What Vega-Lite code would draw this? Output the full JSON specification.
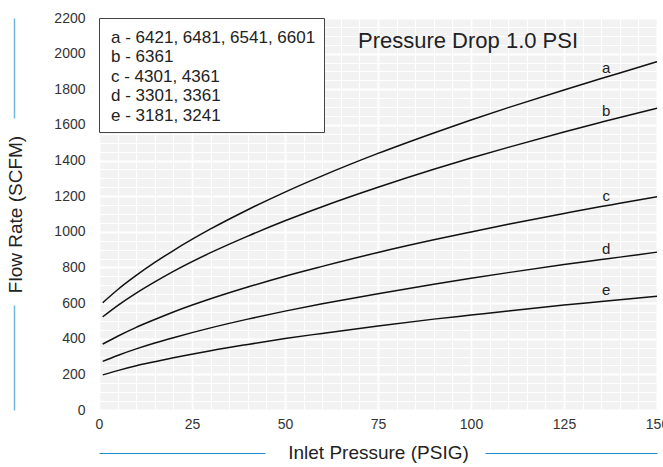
{
 "$schema": "https://vega.github.io/schema/vega-lite/v6.json",
 "width": 558, "height": 392,
 "autosize": {"type": "none"},
 "padding": {"left": 99, "top": 18, "right": 6, "bottom": 57},
 "background": "white",
 "config": {"font": "Liberation Sans", "view": {"fill": "#f2f2f2", "stroke": null}},
 "title": {"text": "Pressure Drop 1.0 PSI", "fontSize": 22, "fontWeight": "normal", "color": "#222", "anchor": "middle", "dx": 90, "offset": -59, "baseline": "alphabetic"},
 "data": {"values": [
  {"curve":"a","x":1,"flow":602},{"curve":"a","x":5,"flow":675},{"curve":"a","x":10,"flow":755},{"curve":"a","x":15,"flow":828},{"curve":"a","x":20,"flow":895},{"curve":"a","x":30,"flow":1016},{"curve":"a","x":40,"flow":1124},{"curve":"a","x":50,"flow":1223},{"curve":"a","x":60,"flow":1314},{"curve":"a","x":75,"flow":1440},{"curve":"a","x":90,"flow":1555},{"curve":"a","x":100,"flow":1628},{"curve":"a","x":110,"flow":1697},{"curve":"a","x":125,"flow":1796},{"curve":"a","x":135,"flow":1860},{"curve":"a","x":140,"flow":1891},{"curve":"a","x":150,"flow":1955},
  {"curve":"b","x":1,"flow":523},{"curve":"b","x":5,"flow":586},{"curve":"b","x":10,"flow":656},{"curve":"b","x":15,"flow":719},{"curve":"b","x":20,"flow":778},{"curve":"b","x":30,"flow":883},{"curve":"b","x":40,"flow":976},{"curve":"b","x":50,"flow":1062},{"curve":"b","x":60,"flow":1141},{"curve":"b","x":75,"flow":1250},{"curve":"b","x":90,"flow":1351},{"curve":"b","x":100,"flow":1414},{"curve":"b","x":110,"flow":1474},{"curve":"b","x":125,"flow":1560},{"curve":"b","x":135,"flow":1615},{"curve":"b","x":140,"flow":1642},{"curve":"b","x":150,"flow":1694},
  {"curve":"c","x":1,"flow":370},{"curve":"c","x":5,"flow":414},{"curve":"c","x":10,"flow":464},{"curve":"c","x":15,"flow":508},{"curve":"c","x":20,"flow":550},{"curve":"c","x":30,"flow":624},{"curve":"c","x":40,"flow":690},{"curve":"c","x":50,"flow":751},{"curve":"c","x":60,"flow":806},{"curve":"c","x":75,"flow":884},{"curve":"c","x":90,"flow":955},{"curve":"c","x":100,"flow":999},{"curve":"c","x":110,"flow":1042},{"curve":"c","x":125,"flow":1103},{"curve":"c","x":135,"flow":1142},{"curve":"c","x":140,"flow":1160},{"curve":"c","x":150,"flow":1197},
  {"curve":"d","x":1,"flow":273},{"curve":"d","x":5,"flow":306},{"curve":"d","x":10,"flow":343},{"curve":"d","x":15,"flow":376},{"curve":"d","x":20,"flow":406},{"curve":"d","x":30,"flow":461},{"curve":"d","x":40,"flow":510},{"curve":"d","x":50,"flow":555},{"curve":"d","x":60,"flow":596},{"curve":"d","x":75,"flow":653},{"curve":"d","x":90,"flow":706},{"curve":"d","x":100,"flow":739},{"curve":"d","x":110,"flow":771},{"curve":"d","x":125,"flow":816},{"curve":"d","x":135,"flow":844},{"curve":"d","x":140,"flow":858},{"curve":"d","x":150,"flow":886},
  {"curve":"e","x":1,"flow":197},{"curve":"e","x":5,"flow":221},{"curve":"e","x":10,"flow":248},{"curve":"e","x":15,"flow":271},{"curve":"e","x":20,"flow":293},{"curve":"e","x":30,"flow":333},{"curve":"e","x":40,"flow":368},{"curve":"e","x":50,"flow":401},{"curve":"e","x":60,"flow":430},{"curve":"e","x":75,"flow":472},{"curve":"e","x":90,"flow":510},{"curve":"e","x":100,"flow":533},{"curve":"e","x":110,"flow":556},{"curve":"e","x":125,"flow":589},{"curve":"e","x":135,"flow":609},{"curve":"e","x":140,"flow":619},{"curve":"e","x":150,"flow":639}
 ]},
 "resolve": {"axis": {"x": "independent", "y": "independent"}},
 "layer": [
  {
   "mark": {"type": "line", "interpolate": "monotone", "strokeWidth": 1.5},
   "encoding": {
    "x": {"field": "x", "type": "quantitative", "scale": {"domain": [0, 150], "nice": false},
     "axis": {"values": [0,5,10,15,20,25,30,35,40,45,50,55,60,65,70,75,80,85,90,95,100,105,110,115,120,125,130,135,140,145,150],
      "labelExpr": "datum.value % 25 === 0 ? datum.label : ''",
      "grid": true, "gridColor": "white", "gridOpacity": 1,
      "gridWidth": {"condition": {"test": "datum.value % 25 === 0", "value": 1.8}, "value": 1},
      "ticks": false, "domain": false, "labelFontSize": 14, "labelColor": "#333", "labelPadding": 7,
      "labelOverlap": false, "labelFlush": false,
      "title": "Inlet Pressure (PSIG)", "titleFontSize": 19, "titleFontWeight": "normal", "titleColor": "#222", "titlePadding": 12}},
    "y": {"field": "flow", "type": "quantitative", "scale": {"domain": [0, 2200], "nice": false},
     "axis": {"values": [0,50,100,150,200,250,300,350,400,450,500,550,600,650,700,750,800,850,900,950,1000,1050,1100,1150,1200,1250,1300,1350,1400,1450,1500,1550,1600,1650,1700,1750,1800,1850,1900,1950,2000,2050,2100,2150,2200],
      "labelExpr": "datum.value % 200 === 0 ? datum.label : ''",
      "grid": true, "gridColor": "white", "gridOpacity": 1,
      "gridWidth": {"condition": {"test": "datum.value % 200 === 0", "value": 1.8}, "value": 1},
      "ticks": false, "domain": false, "labelFontSize": 14, "labelColor": "#333", "labelPadding": 14,
      "labelOverlap": false, "format": "d",
      "title": "Flow Rate (SCFM)", "titleFontSize": 19, "titleFontWeight": "normal", "titleColor": "#222", "titlePadding": 28}},
    "color": {"field": "curve", "type": "nominal",
     "scale": {"domain": ["a", "b", "c", "d", "e"], "range": ["#111", "#111", "#111", "#111", "#111"]},
     "legend": {"title": " ", "titleFontSize": 1, "titlePadding": 2, "orient": "top-left", "offset": 0, "fillColor": "white", "strokeColor": "#444",
      "padding": 8, "symbolSize": 0, "symbolStrokeWidth": 0, "symbolOpacity": 0,
      "labelFontSize": 17, "labelColor": "#222", "labelLimit": 400, "labelOffset": -13, "rowPadding": 1.5,
      "labelExpr": "datum.label === 'a' ? 'a - 6421, 6481, 6541, 6601' : datum.label === 'b' ? 'b - 6361' : datum.label === 'c' ? 'c - 4301, 4361' : datum.label === 'd' ? 'd - 3301, 3361' : 'e - 3181, 3241'"}}
   }
  },
  {
   "transform": [{"filter": "datum.x === 135"}],
   "mark": {"type": "text", "fontSize": 15, "color": "#222", "dx": 5, "dy": -6, "baseline": "alphabetic"},
   "encoding": {
    "x": {"field": "x", "type": "quantitative",
     "axis": {"orient": "bottom", "offset": 43, "domain": true, "domainColor": "#1f88c9", "domainWidth": 1.2, "domainDash": [166, 220, 172, 50], "labels": false, "ticks": false, "grid": false, "title": null}},
    "y": {"field": "flow", "type": "quantitative",
     "axis": {"orient": "left", "offset": 85, "domain": true, "domainColor": "#6cb9e2", "domainWidth": 1.5, "domainDash": [105, 187, 110, 20], "labels": false, "ticks": false, "grid": false, "title": null}},
    "text": {"field": "curve"}
   }
  }
 ]
}
